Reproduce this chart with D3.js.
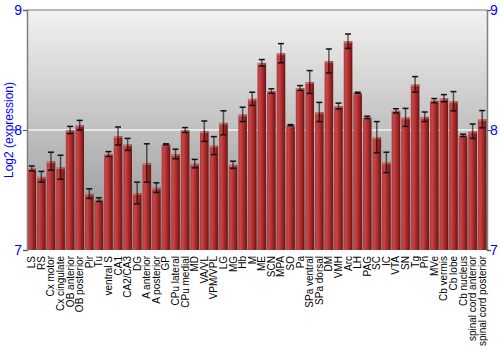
<!DOCTYPE html>
<html>
<head>
<meta charset="utf-8">
<script src="https://cdn.jsdelivr.net/npm/d3@7"></script>
<style>
  body { margin: 0; background: #fff; }
  svg { display: block; font-family: "Liberation Sans", Arial, sans-serif; }
</style>
</head>
<body>
<div id="chart"></div>
<script>
// regiones del cerebro
var regions = ["LS", "RS", "Cx motor", "Cx cingulate", "OB anterior", "OB posterior", "Pir", "Tu",
  "ventral S", "CA1", "CA2/CA3", "DG", "A anterior", "A posterior", "GP", "CPu lateral", "CPu medial",
  "MD", "VA/VL", "VPM/VPL", "LG", "MG", "Hb", "M", "ME", "SCN", "MPA", "SO", "Pa", "SPa ventral",
  "SPa dorsal", "DM", "VMH", "Arc", "LH", "PAG", "SC", "IC", "VTA", "SN", "Tg", "Pn", "MVe",
  "Cb vermis", "Cb lobe", "Cb nucleus", "spinal cord anterior", "spinal cord posterior"];

// valores log2 de expresion
var values = [7.68, 7.61, 7.74, 7.69, 8.00, 8.04, 7.47, 7.42,
  7.80, 7.95, 7.88, 7.475, 7.725, 7.52, 7.88, 7.80, 8.00,
  7.72, 7.99, 7.87, 8.06, 7.71, 8.13, 8.26, 8.56, 8.325, 8.64, 8.04, 8.35, 8.40,
  8.15, 8.575, 8.20, 8.74, 8.31, 8.105, 7.94, 7.73, 8.16, 8.105, 8.38, 8.11, 8.245,
  8.265, 8.24, 7.955, 7.99, 8.09];

// error estandar
var errors = [0.02, 0.045, 0.075, 0.1, 0.03, 0.04, 0.04, 0.015,
  0.02, 0.075, 0.05, 0.09, 0.16, 0.04, 0.005, 0.04, 0.02,
  0.035, 0.085, 0.075, 0.1, 0.03, 0.06, 0.055, 0.027, 0.018, 0.08, 0.005, 0.02, 0.095,
  0.08, 0.1, 0.024, 0.06, 0.005, 0.01, 0.13, 0.085, 0.017, 0.075, 0.065, 0.04, 0.017,
  0.03, 0.08, 0.01, 0.06, 0.072];

var yTicks = [7, 8, 9];

var width = 500, height = 350;
var margin = { top: 10, right: 13, bottom: 100, left: 27 };

var svg = d3.select("#chart").append("svg")
    .attr("width", width)
    .attr("height", height);

var defs = svg.append("defs");

var bg = defs.append("linearGradient")
    .attr("id", "bg").attr("x1", 0).attr("y1", 0).attr("x2", 0).attr("y2", 1);
bg.append("stop").attr("offset", "0%").attr("stop-color", "#f2f2f2");
bg.append("stop").attr("offset", "100%").attr("stop-color", "#8e8e8e");

var barGrad = defs.append("linearGradient")
    .attr("id", "bar").attr("x1", 0).attr("y1", 0).attr("x2", 1).attr("y2", 0);
barGrad.append("stop").attr("offset", "0%").attr("stop-color", "#b03a3a");
barGrad.append("stop").attr("offset", "25%").attr("stop-color", "#c44646");
barGrad.append("stop").attr("offset", "60%").attr("stop-color", "#a82a2a");
barGrad.append("stop").attr("offset", "100%").attr("stop-color", "#6a1414");

var x = d3.scaleBand()
    .domain(regions)
    .range([margin.left, width - margin.right])
    .paddingInner(0.1)
    .paddingOuter(0.05);

var y = d3.scaleLinear()
    .domain([7, 9])
    .range([height - margin.bottom, margin.top]);

// fondo
svg.append("rect")
    .attr("x", margin.left)
    .attr("y", margin.top)
    .attr("width", width - margin.left - margin.right)
    .attr("height", height - margin.top - margin.bottom)
    .attr("fill", "url(#bg)");

// linea de referencia en 8
svg.append("line")
    .attr("x1", margin.left).attr("x2", width - margin.right)
    .attr("y1", y(8)).attr("y2", y(8))
    .attr("stroke", "#f4f4f4")
    .attr("stroke-width", 1.5);

var data = regions.map(function (r, i) { return { region: r, value: values[i], err: errors[i] }; });

var bars = svg.selectAll(".bar")
    .data(data)
    .enter()
    .append("g")
    .attr("class", "bar");

bars.append("rect")
    .attr("x", d => x(d.region))
    .attr("y", d => y(d.value))
    .attr("width", x.bandwidth())
    .attr("height", d => y(7) - y(d.value))
    .attr("fill", "url(#bar)");

// brillo superior de la barra
bars.append("rect")
    .attr("x", d => x(d.region))
    .attr("y", d => y(d.value))
    .attr("width", x.bandwidth())
    .attr("height", 2)
    .attr("fill", "#fff")
    .attr("opacity", 0.25);

// barras de error
var cx = d => x(d.region) + x.bandwidth() / 2;
bars.append("line")
    .attr("x1", cx).attr("x2", cx)
    .attr("y1", d => y(d.value + d.err))
    .attr("y2", d => y(d.value - d.err))
    .attr("stroke", "#000")
    .attr("stroke-opacity", 0.6)
    .attr("stroke-width", 1.5);
[1, -1].forEach(function (s) {
  bars.append("line")
      .attr("x1", d => cx(d) - 3).attr("x2", d => cx(d) + 3)
      .attr("y1", d => y(d.value + s * d.err))
      .attr("y2", d => y(d.value + s * d.err))
      .attr("stroke", "#111")
      .attr("stroke-width", 1.5);
});

// marco superior y ejes
svg.append("line")
    .attr("x1", margin.left).attr("x2", width - margin.right)
    .attr("y1", margin.top).attr("y2", margin.top)
    .attr("stroke", "#777").attr("stroke-width", 1);

var yAxisL = d3.axisLeft(y).tickValues(yTicks).tickSize(4).tickFormat(d3.format("d"));
var yAxisR = d3.axisRight(y).tickValues(yTicks).tickSize(4).tickFormat(d3.format("d"));

var gl = svg.append("g")
    .attr("transform", "translate(" + margin.left + ",0)")
    .call(yAxisL);
var gr = svg.append("g")
    .attr("transform", "translate(" + (width - margin.right) + ",0)")
    .call(yAxisR);

[gl, gr].forEach(function (g) {
  g.select(".domain").attr("stroke", "#808080").attr("stroke-width", 1.5);
  g.selectAll(".tick line").attr("stroke", "#555");
  g.selectAll(".tick text")
      .attr("fill", "#0000ff")
      .style("font-size", "14px")
      .style("font-family", "Liberation Sans, Arial, sans-serif");
});
gl.selectAll(".tick text").attr("x", -5);
gr.selectAll(".tick text").attr("x", 3);

// etiquetas de categorias
svg.selectAll(".xlabel")
    .data(data)
    .enter()
    .append("text")
    .attr("class", "xlabel")
    .attr("transform", d => "translate(" + (cx(d) + 3.5) + "," + (height - margin.bottom + 6) + ") rotate(-90)")
    .attr("text-anchor", "end")
    .style("font-size", "10px")
    .attr("fill", "#000")
    .text(d => d.region);

// titulo del eje y
svg.append("text")
    .attr("transform", "translate(13," + ((margin.top + height - margin.bottom) / 2) + ") rotate(-90)")
    .attr("text-anchor", "middle")
    .attr("fill", "#0000ff")
    .style("font-size", "12px")
    .text("Log2 (expression)");
</script>
</body>
</html>
